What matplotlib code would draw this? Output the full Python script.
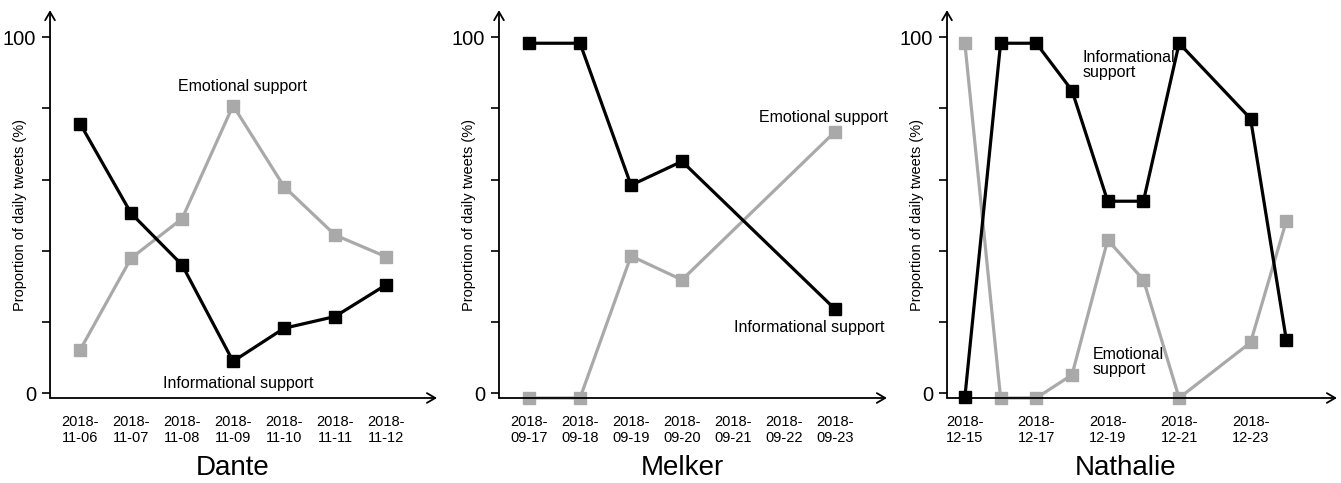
import numpy as np
import pandas as pd
import matplotlib
matplotlib.use("Agg")
import matplotlib.pyplot as plt
from matplotlib.transforms import blended_transform_factory

plt.rcParams["font.family"] = ["Liberation Sans", "DejaVu Sans"]

# Dante
dante_days = ["2018-11-06", "2018-11-07", "2018-11-08", "2018-11-09",
              "2018-11-10", "2018-11-11", "2018-11-12"]
dante_info = [75.7, 50.5, 36.0, 8.9, 18.2, 21.5, 30.4]
dante_emo = [12.1, 37.9, 49.0, 80.8, 58.0, 44.4, 38.3]
dante_ticks = dante_days

# Melker (no tweets on 09-21 and 09-22)
melker_days = ["2018-09-17", "2018-09-18", "2018-09-19", "2018-09-20", "2018-09-23"]
melker_info = [98.3, 98.3, 58.4, 65.1, 23.6]
melker_emo = [-1.4, -1.4, 38.5, 31.8, 73.4]
melker_ticks = ["2018-09-17", "2018-09-18", "2018-09-19", "2018-09-20",
                "2018-09-21", "2018-09-22", "2018-09-23"]

# Nathalie (no tweets on 12-22)
nathalie_days = ["2018-12-15", "2018-12-16", "2018-12-17", "2018-12-18", "2018-12-19",
                 "2018-12-20", "2018-12-21", "2018-12-23", "2018-12-24"]
nathalie_info = [-1.2, 98.3, 98.3, 85.0, 53.9, 53.9, 98.3, 77.1, 15.0]
nathalie_emo = [98.3, -1.4, -1.4, 5.1, 43.0, 31.8, -1.4, 14.2, 48.3]
nathalie_ticks = ["2018-12-15", "2018-12-17", "2018-12-19", "2018-12-21", "2018-12-23"]

GRAY = "#a9a9a9"

fig = plt.figure(figsize=(13.41, 4.83), dpi=100)

panels = [
    # name, days, info, emo, ticks, axes rect, xlim, label positions
    ("Dante", dante_days, dante_info, dante_emo, dante_ticks,
     [0.0373, 0.176, 0.2886, 0.803], (-0.59, 7.0),
     [("Emotional support", 3.18, 86.2, "center"),
      ("Informational support", 3.1, 2.8, "center")]),
    ("Melker", melker_days, melker_info, melker_emo, melker_ticks,
     [0.3721, 0.176, 0.2893, 0.803], (-0.59, 7.02),
     [("Emotional support", 5.78, 77.5, "center"),
      ("Informational support", 5.5, 18.3, "center")]),
    ("Nathalie", nathalie_days, nathalie_info, nathalie_emo, nathalie_ticks,
     [0.7062, 0.176, 0.2908, 0.803], (-0.5, 10.42),
     [("Informational\nsupport", 3.3, 92.1, "left"),
      ("Emotional\nsupport", 3.59, 8.7, "left")]),
]

for name, days, info, emo, ticks, rect, xlim, labels in panels:
    ax = fig.add_axes(rect)
    start = pd.to_datetime(days[0])
    x = (pd.to_datetime(days) - start).days.values
    xt = (pd.to_datetime(ticks) - start).days.values

    ax.plot(x, emo, color=GRAY, lw=2.3, marker="s", ms=9, zorder=2, clip_on=False)
    ax.plot(x, info, color="black", lw=2.3, marker="s", ms=9, zorder=3, clip_on=False)

    for txt, tx, ty, ha in labels:
        ax.text(tx, ty, txt, fontsize=11.5, ha=ha, va="center", linespacing=1.0)

    ax.set_xlim(*xlim)
    ax.set_ylim(-1.4, 107.6)
    ax.set_xticks(xt)
    ax.set_xticklabels([t[:4] + "-\n" + t[5:] for t in ticks], fontsize=10.5,
                       linespacing=1.25)
    ax.tick_params(axis="x", length=0, pad=12)
    ax.set_yticks([0, 20, 40, 60, 80, 100])
    ax.set_yticklabels(["0", "", "", "", "", "100"], fontsize=14.5)
    ax.tick_params(axis="y", direction="out", length=6, width=1.2, pad=4)
    ax.set_ylabel("Proportion of daily tweets (%)", fontsize=10.5)
    ax.yaxis.set_label_coords(-0.059, 0.472)

    for s in ["top", "right", "left", "bottom"]:
        ax.spines[s].set_visible(False)
    arrow = dict(arrowstyle="->,head_length=0.6,head_width=0.35", lw=1.3,
                 color="black", shrinkA=0, shrinkB=0)
    ax.annotate("", xy=(1, 0), xytext=(0, 0), xycoords="axes fraction",
                arrowprops=arrow)
    ax.annotate("", xy=(0, 1), xytext=(0, 0), xycoords="axes fraction",
                arrowprops=arrow)

    tr = blended_transform_factory(ax.transData, fig.transFigure)
    ax.text((x[0] + x[-1]) / 2, 0.031, name, transform=tr, fontsize=20,
            ha="center", va="center")

fig.savefig("out.png", dpi=100)
